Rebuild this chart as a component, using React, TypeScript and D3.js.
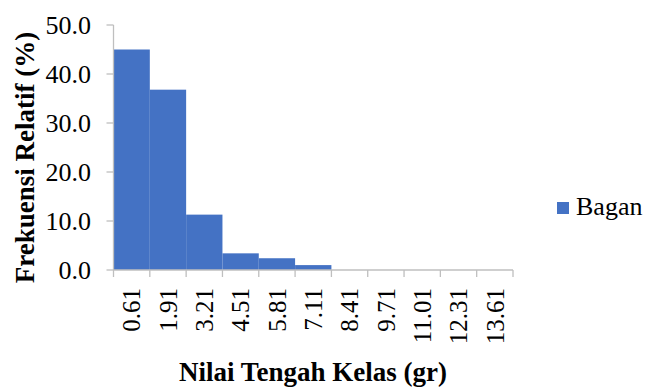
import React from "react";
import * as d3 from "d3";

const categories = ["0.61", "1.91", "3.21", "4.51", "5.81", "7.11", "8.41", "9.71", "11.01", "12.31", "13.61"];
const bagan = [45.0, 36.8, 11.3, 3.4, 2.4, 1.0, 0, 0, 0, 0, 0];
const yTicks = [0, 10, 20, 30, 40, 50];
const seriesName = "Bagan";
const xTitle = "Nilai Tengah Kelas (gr)";
const yTitle = "Frekuensi Relatif (%)";

const W = 647;
const H = 388;
const FONT = "Liberation Serif";
const BAR = "#4472C4";
const AXIS = "#BFBFBF";

export default function App() {
  const left = 113.5, right = 513, top = 25, bottom = 270;
  const x = d3.scaleBand<string>().domain(categories).range([left, right]).padding(0);
  const y = d3.scaleLinear().domain([0, 50]).range([bottom, top]);
  const bounds = categories.map((c) => x(c)!).concat([right]);

  return (
    <svg width={W} height={H} style={{ position: "absolute", left: 0, top: 0, background: "#fff" }}>
      <g>
        {bagan.map((d, i) => (
          <rect
            key={i}
            x={x(categories[i])!}
            width={x.bandwidth()}
            y={y(d)}
            height={y(0) - y(d)}
            fill={BAR}
          />
        ))}
      </g>
      <g stroke={AXIS} strokeWidth={1.3}>
        <line x1={left} x2={left} y1={y(50)} y2={y(0)} />
        {yTicks.map((t) => (
          <line key={t} x1={left - 7} x2={left} y1={y(t)} y2={y(t)} />
        ))}
        <line x1={left} x2={right} y1={bottom} y2={bottom} />
        {bounds.map((bx, i) => (
          <line key={i} x1={bx} x2={bx} y1={bottom} y2={bottom + 7} />
        ))}
      </g>
      <g fontFamily={FONT} fill="#000">
        {yTicks.map((t) => (
          <text key={t} x={91} y={y(t)} dy="0.35em" textAnchor="end" fontSize={26}>
            {t.toFixed(1)}
          </text>
        ))}
        {categories.map((c) => (
          <text
            key={c}
            transform={`translate(${x(c)! + x.bandwidth() / 2},288) rotate(-90)`}
            dy="0.35em"
            textAnchor="end"
            fontSize={25}
          >
            {c}
          </text>
        ))}
        <text x={313} y={381} textAnchor="middle" fontWeight="bold" fontSize={27}>
          {xTitle}
        </text>
        <text
          transform={`translate(34,${(32 + 283) / 2}) rotate(-90)`}
          textAnchor="middle"
          fontWeight="bold"
          fontSize={27}
        >
          {yTitle}
        </text>
        <rect x={557} y={202} width={12} height={12} fill={BAR} />
        <text x={576} y={215} fontSize={26}>
          {seriesName}
        </text>
      </g>
    </svg>
  );
}
